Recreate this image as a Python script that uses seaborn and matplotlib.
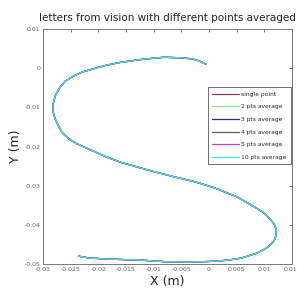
import numpy as np
import pandas as pd
import matplotlib
matplotlib.use("Agg")
import matplotlib.pyplot as plt
import seaborn as sns

# ─── DATA ───────────────────────────────────────────────────────────────────
SERIES = ["single point", "2 pts average", "3 pts average",
          "4 pts average", "5 pts average", "10 pts average"]
COLORS = ["#8b3a52", "#8fe88f", "#2a2a80", "#5c5c5c", "#c040c8", "#40e0e0"]

PATH_X = [-0.0005, -0.0018, -0.003, -0.0055, -0.0082, -0.012, -0.016,
          -0.0185, -0.0205, -0.0228, -0.0245, -0.026, -0.027, -0.0278,
          -0.0282, -0.0282, -0.0278, -0.0272, -0.0265, -0.0254, -0.024,
          -0.0215, -0.0188, -0.016, -0.011, -0.0064, -0.0025, 0.0009, 0.005,
          0.0082, 0.0098, 0.011, 0.0118, 0.0122, 0.0121, 0.0118, 0.0107,
          0.0097, 0.0085, 0.0058, 0.0035, 0.001, -0.0033, -0.008, -0.0124,
          -0.017, -0.0215, -0.0236]
PATH_Y = [0.001, 0.0019, 0.0024, 0.0027, 0.0028, 0.0023, 0.0015, 0.0008,
          0.0, -0.0009, -0.002, -0.0033, -0.005, -0.007, -0.0092, -0.011,
          -0.013, -0.0148, -0.0165, -0.018, -0.0192, -0.0208, -0.0225, -0.024,
          -0.026, -0.0277, -0.029, -0.0305, -0.0328, -0.0354, -0.0368, -0.0385,
          -0.0398, -0.0413, -0.0428, -0.044, -0.0456, -0.0465, -0.0473,
          -0.0485, -0.049, -0.0493, -0.0495, -0.0494, -0.049, -0.0488,
          -0.0485, -0.048]

X_TICKS = [-0.03, -0.025, -0.02, -0.015, -0.01, -0.005, 0, 0.005, 0.01, 0.015]
X_LABELS = ["-0.03", "-0.025", "-0.02", "-0.015", "-0.01", "-0.005", "0",
            "0.005", "0.01", "0.015"]
Y_TICKS = [0.01, 0, -0.01, -0.02, -0.03, -0.04, -0.05]
Y_LABELS = ["0.01", "0", "-0.01", "-0.02", "-0.03", "-0.04", "-0.05"]
# ─────────────────────────────────────────────────────────────────────────────

rows = []
for name in SERIES:
    for i, (x, y) in enumerate(zip(PATH_X, PATH_Y)):
        rows.append({"series": name, "order": i, "x": x, "y": y})
df = pd.DataFrame(rows)

sns.set_style("white")
plt.rcParams["font.family"] = ["DejaVu Sans"]

fig = plt.figure(figsize=(2.97, 2.94), dpi=100)
ax = fig.add_axes([0.145, 0.102, 0.838, 0.799])

sns.lineplot(data=df, x="x", y="y", hue="series", hue_order=SERIES,
             palette=COLORS, sort=False, estimator=None, units="series",
             linewidth=0.9, ax=ax)

ax.set_xlim(-0.03, 0.015)
ax.set_ylim(-0.05, 0.01)
ax.set_xticks(X_TICKS)
ax.set_xticklabels(X_LABELS)
ax.set_yticks(Y_TICKS)
ax.set_yticklabels(Y_LABELS)
ax.tick_params(direction="in", length=2, width=0.6, labelsize=4.5,
               colors="#666666", top=True, right=True, pad=2)
for s in ax.spines.values():
    s.set_color("#777777")
    s.set_linewidth(0.7)

ax.set_xlabel("X (m)", fontsize=9, color="#222222", labelpad=2)
ax.set_ylabel("Y (m)", fontsize=9, color="#222222", labelpad=2)
ax.set_title("letters from vision with different points averaged",
             fontsize=7.5, color="#222222", pad=6)

ax.legend(loc="upper left", bbox_to_anchor=(0.65, 0.765), fontsize=4.3,
          handlelength=4.5, handletextpad=0.4, borderpad=0.7,
          labelspacing=1.25, frameon=True, fancybox=False,
          edgecolor="#555555", framealpha=1)
ax.get_legend().get_frame().set_linewidth(0.6)

fig.savefig("out.png", dpi=100)
